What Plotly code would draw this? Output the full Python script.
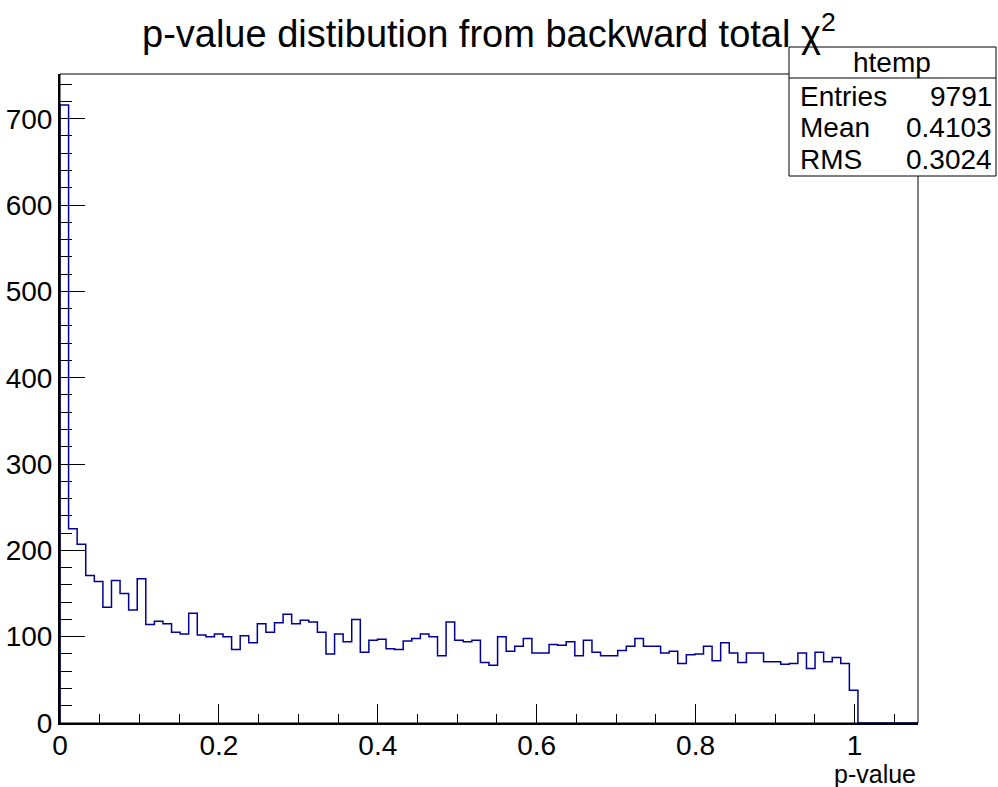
import numpy as np
import plotly.graph_objects as go

# ---- data ----
n_bins = 100
x_min, x_max = 0.0, 1.08
counts_nonzero = [
    716, 225, 207, 171, 164, 134, 165, 150, 131, 167,
    114, 118, 115, 105, 103, 127, 102, 100, 103, 100,
    85, 101, 93, 115, 105, 116, 126, 115, 119, 117,
    105, 80, 103, 94, 120, 82, 96, 97, 86, 85,
    95, 98, 103, 100, 78, 117, 96, 94, 96, 70,
    67, 100, 83, 89, 98, 81, 81, 91, 90, 94,
    78, 96, 82, 78, 78, 84, 89, 98, 89, 89,
    81, 83, 69, 79, 80, 89, 72, 93, 81, 70,
    81, 81, 71, 71, 68, 69, 81, 63, 82, 71,
    76, 69, 38,
]
stats_labels = ["Entries", "Mean", "RMS"]
stats_values = ["9791", "0.4103", "0.3024"]
hist_name = "htemp"
title_text = "p-value distibution from backward total χ<sup>2</sup>"
x_title = "p-value"
x_tickvals = [0, 0.2, 0.4, 0.6, 0.8, 1]
x_ticktext = ["0", "0.2", "0.4", "0.6", "0.8", "1"]
y_tickvals = [0, 100, 200, 300, 400, 500, 600, 700]

counts = np.zeros(n_bins)
counts[:len(counts_nonzero)] = counts_nonzero
edges = np.linspace(x_min, x_max, n_bins + 1)
y_max = 1.05 * max(counts)

# step outline
xs = np.concatenate([[edges[0]], edges])
ys = np.concatenate([[0], counts, [counts[-1]]])

FONT = "Liberation Sans, Arial, Helvetica, sans-serif"
W, H = 998, 787
L, R, T, B = 60, 80, 74, 64
PW, PH = W - L - R, H - T - B

def px(xp):
    return (xp - L) / PW

def py(yp):
    return (H - B - yp) / PH

fig = go.Figure()
fig.add_trace(go.Scatter(
    x=xs, y=ys, mode="lines", line=dict(color="#000099", width=1.5, shape="hv"),
    hoverinfo="skip", showlegend=False,
))

fig.update_layout(
    width=W, height=H,
    margin=dict(l=L, r=R, t=T, b=B),
    paper_bgcolor="white", plot_bgcolor="white",
    font=dict(family=FONT, color="black"),
    showlegend=False,
)
fig.update_xaxes(
    range=[x_min, x_max], showgrid=False, zeroline=False, automargin=False,
    showline=True, linecolor="black", linewidth=2,
    tickmode="array", tickvals=x_tickvals, ticktext=x_ticktext,
    ticks="inside", ticklen=19, tickwidth=1, tickcolor="black",
    minor=dict(ticks="inside", ticklen=9, dtick=0.05, tick0=0, tickcolor="black", tickwidth=1, showgrid=False),
    tickfont=dict(size=28, family=FONT), ticklabelstandoff=-4,
)
fig.update_yaxes(
    range=[0, y_max], showgrid=False, zeroline=False, automargin=False,
    showline=True, linecolor="black", linewidth=2,
    tickmode="array", tickvals=y_tickvals,
    ticks="inside", ticklen=25, tickwidth=1, tickcolor="black",
    minor=dict(ticks="inside", ticklen=12, dtick=20, tick0=0, tickcolor="black", tickwidth=1, showgrid=False),
    tickfont=dict(size=28, family=FONT), ticklabelstandoff=0,
)

shapes = [
    # frame
    dict(type="rect", xref="paper", yref="paper", x0=0, y0=0, x1=1, y1=1,
         line=dict(color="black", width=1), layer="above"),
    # stats box
    dict(type="rect", xref="paper", yref="paper", x0=px(789), x1=px(996), y0=py(176), y1=py(47),
         line=dict(color="black", width=1), fillcolor="white", layer="above"),
    dict(type="line", xref="paper", yref="paper", x0=px(789), x1=px(996), y0=py(78), y1=py(78),
         line=dict(color="black", width=1), layer="above"),
]
fig.update_layout(shapes=shapes)

ann = [
    dict(text=title_text, x=px(489), y=py(31), xref="paper", yref="paper",
         xanchor="center", yanchor="middle", showarrow=False, font=dict(size=38, family=FONT)),
    dict(text=x_title, x=px(918), y=py(774), xref="paper", yref="paper",
         xanchor="right", yanchor="middle", showarrow=False, font=dict(size=25, family=FONT)),
    dict(text=hist_name, x=px(892), y=py(62), xref="paper", yref="paper",
         xanchor="center", yanchor="middle", showarrow=False, font=dict(size=28, family=FONT)),
]
row_y = [96, 128, 159]
for lab, val, yy in zip(stats_labels, stats_values, row_y):
    ann.append(dict(text=lab, x=px(798), y=py(yy), xref="paper", yref="paper",
                    xanchor="left", yanchor="middle", showarrow=False, font=dict(size=28, family=FONT)))
    ann.append(dict(text=val, x=px(994), y=py(yy), xref="paper", yref="paper",
                    xanchor="right", yanchor="middle", showarrow=False, font=dict(size=28, family=FONT)))
fig.update_layout(annotations=ann)

fig.write_html("out.html")
